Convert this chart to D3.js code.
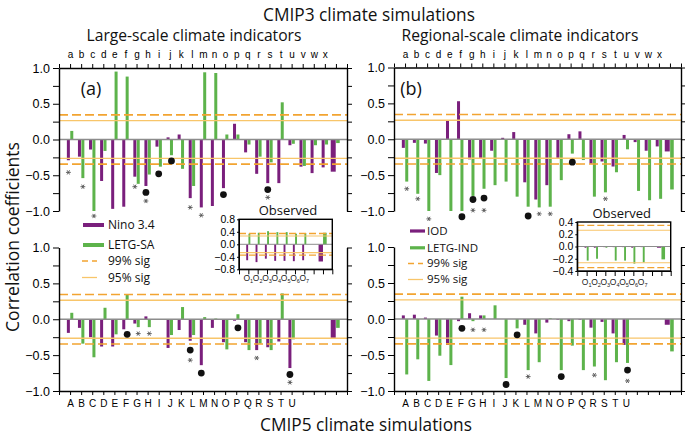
<!DOCTYPE html>
<html><head><meta charset="utf-8">
<script src="https://d3js.org/d3.v7.min.js"></script>
<style>html,body{margin:0;padding:0;background:#fff}svg{display:block}</style>
</head><body>
<svg id="chart" width="685" height="439"></svg>
<script>
// ---------------- data ----------------
const cmip3Models = "abcdefghijklmnopqrstuvwx".split("");
const cmip5Models = "ABCDEFGHIJKLMNOPQRSTU".split("");
const observedSets = ["1","2","3","4","5","6","7"];

// CMIP3: 24 models followed by the ensemble (last value)
const nino34CMIP3 = [-0.29,-0.24,-0.14,-0.58,-0.97,-0.94,-0.52,-0.65,-0.10,0.03,0.07,-0.82,-0.95,-0.93,-0.68,0.22,-0.18,-0.48,-0.61,-0.61,-0.08,-0.38,-0.47,-0.39,-0.45];
const letgSACMIP3 = [0.12,-0.54,-1.00,-0.16,0.95,0.88,-0.62,-0.49,-0.38,-0.22,-0.41,-0.65,0.94,0.93,0.07,0.07,-0.07,-0.24,-0.32,0.52,-0.06,-0.37,-0.08,-0.07,-0.05];
const iodCMIP3 = [-0.12,-0.05,-0.06,-0.47,0.26,0.53,-0.28,-0.26,-0.16,0.02,0.10,-0.60,-0.84,-0.64,-0.26,0.07,0.11,-0.34,-0.31,-0.38,0.06,-0.04,-0.16,-0.10,-0.17];
const letgINDCMIP3 = [-0.59,-0.76,-1.00,-0.50,-1.00,-1.00,-0.79,-0.69,-0.64,-0.59,-0.80,-0.94,-0.95,-0.94,-0.57,-0.20,-0.29,-0.80,-0.74,-0.46,-0.14,-0.72,-0.85,-0.83,-0.70];

// CMIP5: 21 models, three empty slots, ensemble (last value)
const nino34CMIP5 = [-0.19,-0.12,-0.25,-0.38,-0.38,-0.14,-0.06,0.04,0.00,-0.40,-0.15,-0.30,-0.64,-0.12,-0.32,-0.02,-0.32,-0.43,-0.39,-0.31,-0.68,null,null,null,-0.26];
const letgSACMIP5 = [0.09,-0.34,-0.53,0.16,-0.21,0.35,-0.11,-0.11,0.00,-0.22,0.17,-0.22,0.03,0.01,-0.42,0.07,-0.43,-0.34,-0.43,0.36,-0.28,null,null,null,-0.12];
const iodCMIP5 = [0.05,0.06,0.02,-0.23,-0.36,-0.03,0.08,0.05,0.00,0.00,0.00,-0.08,-0.20,-0.05,-0.01,-0.03,-0.01,-0.12,-0.04,-0.20,-0.36,null,null,null,-0.08];
const letgINDCMIP5 = [-0.77,-0.56,-0.86,-0.51,-0.64,0.31,-0.03,0.05,0.19,-0.82,-0.13,-0.71,-0.60,0.01,-0.71,-0.37,-0.71,-0.66,-0.85,-0.60,-0.61,null,null,null,-0.45];

// Observed: O1..O7 followed by the combined value (last)
const nino34Obs = [-0.51,-0.57,-0.46,-0.53,-0.53,-0.54,-0.51,-0.55];
const letgSAObs = [0.34,0.37,0.42,0.39,0.39,0.34,0.36,0.37];
const iodObs = [-0.02,-0.02,-0.01,-0.01,-0.01,-0.02,-0.01,-0.02];
const letgINDObs = [-0.23,-0.20,-0.02,-0.23,-0.23,-0.28,-0.26,-0.21];

const sig99 = 0.345, sig95 = 0.265;
const yTicks = [-1,-0.75,-0.5,-0.25,0,0.25,0.5,0.75,1];

// markers: [model, bar ("p" first series, "g" second series, "c" centre), value]
const dotsA = [["h","p",-0.74],["i","c",-0.48],["j","g",-0.30],["o","p",-0.77],["s","p",-0.70]];
const starsA = [["a","p",-0.46],["b","g",-0.66],["c","g",-1.07],["g","p",-0.66],["h","p",-0.86],["l","p",-0.95],["m","p",-1.06],["s","p",-0.81]];
const dotsB = [["f","g",-1.08],["g","g",-0.84],["h","g",-0.82],["l","g",-1.07],["p","g",-0.32]];
const starsB = [["a","g",-0.69],["b","g",-0.83],["c","g",-1.11],["g","g",-0.99],["h","g",-0.99],["m","g",-1.04],["n","g",-1.04],["s","g",-0.83]];
const dotsC = [["F","g",-0.21],["L","p",-0.43],["M","p",-0.75],["P","g",-0.12],["U","p",-0.77]];
const starsC = [["G","g",-0.20],["H","g",-0.20],["L","p",-0.57],["R","p",-0.54],["U","p",-0.88]];
const dotsD = [["F","g",-0.13],["J","g",-0.91],["K","g",-0.22],["O","g",-0.80],["U","g",-0.71]];
const starsD = [["G","g",-0.15],["H","g",-0.15],["L","g",-0.80],["R","g",-0.78],["U","g",-0.86]];

// ---------------- style ----------------
const PURPLE = "#7a1f7c", GREEN = "#5db34b", ORANGE = "#f2a431", ORANGE2 = "#f8c56a";
const TITLEFONT = "'Open Sans', sans-serif", TICKFONT = "'Liberation Sans', Arial, sans-serif";

const svg = d3.select("#chart");
svg.append("rect").attr("width",685).attr("height",439).attr("fill","#fff");

function fit(sel, w){
  const l = sel.node().getComputedTextLength();
  const fs = parseFloat(sel.attr("font-size"));
  sel.attr("font-size", (fs*w/l).toFixed(2));
  return sel;
}

const starPath = d3.symbol(d3.symbolAsterisk, 16)();

function panel(cfg){
  const g = svg.append("g");
  const x = d3.scaleLinear().domain([0,26]).range([cfg.x0,cfg.x1]);
  const y = d3.scaleLinear().domain([-1,1]).range([cfg.y1,cfg.y0]);
  const n = cfg.p.length;
  const slot = i => i+1;
  const idx = k => cfg.cats.indexOf(k);
  const wide = i => i === n-1;

  const bars = g.append("g");
  const data = d3.range(n);
  bars.selectAll(".bp").data(data.filter(i=>cfg.p[i]!=null)).join("rect")
    .attr("x", i => x(slot(i)) - (wide(i)?5.2:3.2))
    .attr("width", i => wide(i)?5:3)
    .attr("y", i => Math.min(y(cfg.p[i]), y(0)))
    .attr("height", i => Math.abs(y(cfg.p[i]) - y(0)))
    .attr("fill", PURPLE);
  bars.selectAll(".bg").data(data.filter(i=>cfg.gr[i]!=null)).join("rect")
    .attr("x", i => x(slot(i)) + 0.2)
    .attr("width", i => wide(i)?3.6:3)
    .attr("y", i => Math.min(y(cfg.gr[i]), y(0)))
    .attr("height", i => Math.abs(y(cfg.gr[i]) - y(0)))
    .attr("fill", GREEN);

  g.append("line").attr("x1",cfg.x0).attr("x2",cfg.x1).attr("y1",y(0)).attr("y2",y(0))
    .attr("stroke","#8c8c8c").attr("stroke-width",1.4);
  [sig95,-sig95].forEach(v => g.append("line").attr("x1",cfg.x0).attr("x2",cfg.x1)
    .attr("y1",y(v)).attr("y2",y(v)).attr("stroke",ORANGE2).attr("stroke-width",1.3));
  [sig99,-sig99].forEach(v => g.append("line").attr("x1",cfg.x0).attr("x2",cfg.x1)
    .attr("y1",y(v)).attr("y2",y(v)).attr("stroke",ORANGE).attr("stroke-width",1.6)
    .attr("stroke-dasharray","9,4"));

  const mx = m => x(slot(idx(m[0]))) + (m[1]==="p"?-1.7:(m[1]==="g"?1.7:0));
  g.selectAll(".dot").data(cfg.dots).join("circle")
    .attr("cx", mx).attr("cy", m => y(m[2])).attr("r",3.4).attr("fill","#111");
  g.selectAll(".star").data(cfg.stars).join("path")
    .attr("transform", m => `translate(${mx(m)},${y(m[2])}) rotate(90)`)
    .attr("d", starPath).attr("fill","none").attr("stroke","#555").attr("stroke-width",0.9);

  const fmt = d => (Math.abs(d*2 - Math.round(d*2))<1e-9) ? d3.format(".1f")(d) : "";
  const ax = g.append("g").attr("transform",`translate(${cfg.x0},0)`)
    .call(d3.axisLeft(y).tickValues(yTicks).tickFormat(fmt).tickSize(6).tickSizeOuter(0).tickPadding(3));
  ax.attr("font-family",TICKFONT).attr("font-size",12.5);
  g.append("g").attr("transform",`translate(${cfg.x1},0)`)
    .call(d3.axisRight(y).tickValues(yTicks).tickFormat("").tickSize(5).tickSizeOuter(0));
  if (cfg.top){
    const at = g.append("g").attr("transform",`translate(0,${cfg.y0})`)
      .call(d3.axisTop(x).tickValues(d3.range(27)).tickFormat(i => cfg.cats[i-1]||"").tickSize(4).tickSizeOuter(0).tickPadding(6));
    at.attr("font-family",TICKFONT).attr("font-size",10);
  } else {
    const ab = g.append("g").attr("transform",`translate(0,${cfg.y1})`)
      .call(d3.axisBottom(x).tickValues(d3.range(27)).tickFormat(i => cfg.cats[i-1]||"").tickSize(4).tickSizeOuter(0).tickPadding(5));
    ab.attr("font-family",TICKFONT).attr("font-size",10);
  }
  g.selectAll(".domain").attr("stroke","#000").attr("stroke-width",1.4);
  g.selectAll(".tick line").attr("stroke","#000").attr("stroke-width",1);
}

panel({x0:59,x1:347,y0:68,y1:211,top:true,cats:cmip3Models,p:nino34CMIP3,gr:letgSACMIP3,dots:dotsA,stars:starsA});
panel({x0:394,x1:681,y0:67.5,y1:211,top:true,cats:cmip3Models,p:iodCMIP3,gr:letgINDCMIP3,dots:dotsB,stars:starsB});
panel({x0:59,x1:347,y0:247.5,y1:391,top:false,cats:cmip5Models,p:nino34CMIP5,gr:letgSACMIP5,dots:dotsC,stars:starsC});
panel({x0:394,x1:681,y0:247,y1:391,top:false,cats:cmip5Models,p:iodCMIP5,gr:letgINDCMIP5,dots:dotsD,stars:starsD});

// ---------------- insets ----------------
function inset(c){
  const g = svg.append("g");
  const x = d3.scaleLinear().domain([0,10]).range([c.x0,c.x1]);
  const y = d3.scaleLinear().domain(c.dom).range([c.y1,c.y0]);
  g.append("rect").attr("x",c.x0).attr("y",c.y0).attr("width",c.x1-c.x0).attr("height",c.y1-c.y0).attr("fill","#fff");
  const n = c.p.length;
  const slot = i => i < n-1 ? i+1 : 9;
  const wide = i => i === n-1;
  g.selectAll(".bp").data(d3.range(n)).join("rect")
    .attr("x", i => x(slot(i)) - (wide(i)?4.4:2.1)).attr("width", i => wide(i)?4.4:1.9)
    .attr("y", i => Math.min(y(c.p[i]),y(0))).attr("height", i => Math.abs(y(c.p[i])-y(0)))
    .attr("fill",PURPLE);
  g.selectAll(".bg").data(d3.range(n)).join("rect")
    .attr("x", i => x(slot(i)) + 0.1).attr("width", i => wide(i)?3.6:1.9)
    .attr("y", i => Math.min(y(c.gr[i]),y(0))).attr("height", i => Math.abs(y(c.gr[i])-y(0)))
    .attr("fill",GREEN);
  g.append("line").attr("x1",c.x0).attr("x2",c.x1).attr("y1",y(0)).attr("y2",y(0)).attr("stroke","#8c8c8c").attr("stroke-width",1);
  [sig95,-sig95].forEach(v => g.append("line").attr("x1",c.x0).attr("x2",c.x1)
    .attr("y1",y(v)).attr("y2",y(v)).attr("stroke",ORANGE2).attr("stroke-width",1.1));
  [sig99,-sig99].forEach(v => g.append("line").attr("x1",c.x0).attr("x2",c.x1)
    .attr("y1",y(v)).attr("y2",y(v)).attr("stroke",ORANGE).attr("stroke-width",1.4).attr("stroke-dasharray","7,3"));
  const al = g.append("g").attr("transform",`translate(${c.x0},0)`)
    .call(d3.axisLeft(y).tickValues(c.ticks).tickFormat(d3.format(".1f")).tickSize(2).tickSizeOuter(0).tickPadding(2));
  al.attr("font-family",TICKFONT).attr("font-size",10.5);
  g.append("g").attr("transform",`translate(0,${c.y1})`)
    .call(d3.axisBottom(x).tickValues(d3.range(11)).tickFormat("").tickSize(5).tickSizeOuter(0));
  g.selectAll(".domain").attr("stroke","#000");
  g.selectAll(".tick line").attr("stroke","#000");
  g.append("rect").attr("x",c.x0).attr("y",c.y0).attr("width",c.x1-c.x0).attr("height",c.y1-c.y0)
    .attr("fill","none").attr("stroke","#000").attr("stroke-width",1.4);
  const lab = g.selectAll(".ol").data(observedSets).join("text")
    .attr("x",(d,i)=>x(i+1)).attr("y",c.labY).attr("text-anchor","middle")
    .attr("font-family",TICKFONT).attr("font-size",8.5).attr("fill","#222");
  lab.append("tspan").text("O");
  lab.append("tspan").attr("font-size",5.5).attr("dy",1.8).text(d=>d);
  g.append("text").attr("x",c.tx).attr("y",c.ty).attr("text-anchor","middle")
    .attr("font-family",TITLEFONT).attr("font-size",13).attr("fill","#111").text("Observed");
}
inset({x0:239,x1:332.3,y0:219.3,y1:269.3,dom:[-0.8,0.8],ticks:[-0.8,-0.4,0,0.4,0.8],p:nino34Obs,gr:letgSAObs,labY:281,tx:288,ty:215});
inset({x0:577.3,x1:670.7,y0:222,y1:271,dom:[-0.4,0.4],ticks:[-0.4,-0.2,0,0.2,0.4],p:iodObs,gr:letgINDObs,labY:285,tx:621.7,ty:217.5});

// ---------------- legends ----------------
function legend(c){
  const g = svg.append("g").attr("font-family",TITLEFONT).attr("font-size",c.fs).attr("fill","#111");
  g.append("line").attr("x1",c.lx0).attr("x2",c.lx1).attr("y1",c.ys[0]).attr("y2",c.ys[0]).attr("stroke",PURPLE).attr("stroke-width",c.sw);
  g.append("line").attr("x1",c.lx0).attr("x2",c.lx1).attr("y1",c.ys[1]).attr("y2",c.ys[1]).attr("stroke",GREEN).attr("stroke-width",c.sw);
  g.append("line").attr("x1",c.dx0).attr("x2",c.dx1).attr("y1",c.ys[2]).attr("y2",c.ys[2]).attr("stroke",ORANGE).attr("stroke-width",1.4).attr("stroke-dasharray","6,4");
  g.append("line").attr("x1",c.dx0).attr("x2",c.dx1).attr("y1",c.ys[3]).attr("y2",c.ys[3]).attr("stroke",ORANGE2).attr("stroke-width",1.3);
  c.labels.forEach((t,i) => g.append("text").attr("x",c.tx).attr("y",c.ys[i]+c.fs*0.34).text(t));
}
legend({labels:["Nino 3.4","LETG-SA","99% sig","95% sig"],ys:[225,245,261,277.5],lx0:83,lx1:104,dx0:82,dx1:97,tx:108,fs:12,sw:4});
legend({labels:["IOD","LETG-IND","99% sig","95% sig"],ys:[231,247.8,263.5,279.5],lx0:410,lx1:425,dx0:408,dx1:423,tx:427,fs:11.5,sw:3.2});

// ---------------- titles ----------------
const T = (txt,x,y,fs,w,anchor) => fit(svg.append("text").attr("x",x).attr("y",y).attr("text-anchor",anchor||"middle")
  .attr("font-family",TITLEFONT).attr("font-size",fs).attr("fill","#111").text(txt), w);
T("CMIP3 climate simulations",369,21,16,212);
T("Large-scale climate indicators",194,41,16,215);
T("Regional-scale climate indicators",520,41,16,237);
T("CMIP5 climate simulations",366,431,16,212);
svg.append("text").attr("x",91).attr("y",95).attr("font-family",TITLEFONT).attr("font-size",18).attr("fill","#111").attr("text-anchor","middle").text("(a)");
svg.append("text").attr("x",411).attr("y",95).attr("font-family",TITLEFONT).attr("font-size",18).attr("fill","#111").attr("text-anchor","middle").text("(b)");
const yl = svg.append("text").attr("transform","translate(19,237) rotate(-90)").attr("text-anchor","middle")
  .attr("font-family",TITLEFONT).attr("font-size",16).attr("fill","#111").text("Correlation coefficients");
fit(yl,190);
</script>
</body></html>
